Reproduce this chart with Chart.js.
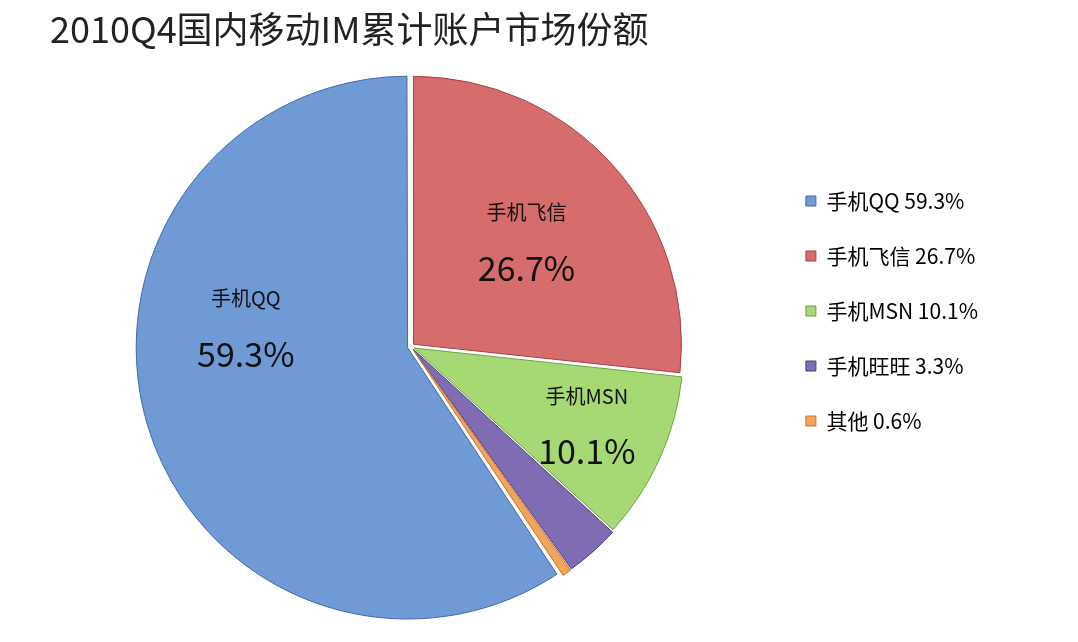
<!DOCTYPE html>
<html>
<head>
<meta charset="utf-8">
<script src="https://cdn.jsdelivr.net/npm/chart.js@4"></script>
<style>
  body { margin: 0; background: #fff; }
  #wrap { width: 1078px; height: 642px; }
</style>
</head>
<body>
<div id="wrap"><canvas id="pieChart"></canvas></div>
<script>
// data
var names = ['手机QQ', '手机飞信', '手机MSN', '手机旺旺', '其他'];
var shares = [59.3, 26.7, 10.1, 3.3, 0.6];
var colors = ['#6f9ad6', '#d66c6c', '#a6d874', '#7f6cb2', '#f2a55a'];
var darks = ['#3d6aa8', '#a84040', '#6ea23e', '#4f3f82', '#c4762c'];

// label names + percentages inside the 3 big slices
var sliceLabels = {
    id: 'sliceLabels',
    afterDatasetsDraw: function(chart) {
        var ctx = chart.ctx;
        var meta = chart.getDatasetMeta(0);
        var fr = [0.62, 0.58, 0.72];
        var shift = [0.4, 0, 0];
        for (var i = 0; i < 3; i++) {
            var a = meta.data[i];
            var mid = (a.startAngle + a.endAngle) / 2 + shift[i];
            var r = a.outerRadius * fr[i];
            var x = a.x + Math.cos(mid) * r;
            var y = a.y + Math.sin(mid) * r;
            ctx.save();
            ctx.textAlign = 'center';
            ctx.textBaseline = 'middle';
            ctx.fillStyle = '#111';
            ctx.font = '20px "Noto Sans CJK SC", sans-serif';
            ctx.fillText(names[i], x, y - 30);
            ctx.font = '34px "Noto Sans CJK SC", sans-serif';
            ctx.fillText(shares[i].toFixed(1) + '%', x, y + 25);
            ctx.restore();
        }
    }
};

var ctx = document.getElementById('pieChart');
var pieChart = new Chart(ctx, {
    type: 'pie',
    data: {
        labels: names,
        datasets: [{
            data: shares,
            backgroundColor: colors,
            borderColor: darks,
            borderWidth: 1,
            offset: 14,
            hoverOffset: 0
        }]
    },
    options: {
        responsive: true,
        maintainAspectRatio: false,
        animation: false,
        rotation: -213.5,
        layout: { padding: { left: 50, right: 90, top: 0, bottom: 20 } },
        plugins: {
            title: {
                display: true,
                text: '2010Q4国内移动IM累计账户市场份额',
                align: 'start',
                color: '#222',
                font: { size: 36, family: '"Noto Sans CJK SC", sans-serif', weight: 'normal' },
                padding: { top: 8, bottom: 20 }
            },
            legend: {
                position: 'right',
                labels: {
                    color: '#222',
                    boxWidth: 10,
                    boxHeight: 10,
                    padding: 34,
                    font: { size: 21, family: '"Noto Sans CJK SC", sans-serif' },
                    generateLabels: function(chart) {
                        return names.map(function(n, i) {
                            return {
                                text: n + ' ' + shares[i].toFixed(1) + '%',
                                fillStyle: colors[i],
                                strokeStyle: darks[i],
                                lineWidth: 1,
                                index: i
                            };
                        });
                    }
                }
            },
            tooltip: { enabled: false }
        }
    },
    plugins: [sliceLabels]
});
</script>
</body>
</html>
